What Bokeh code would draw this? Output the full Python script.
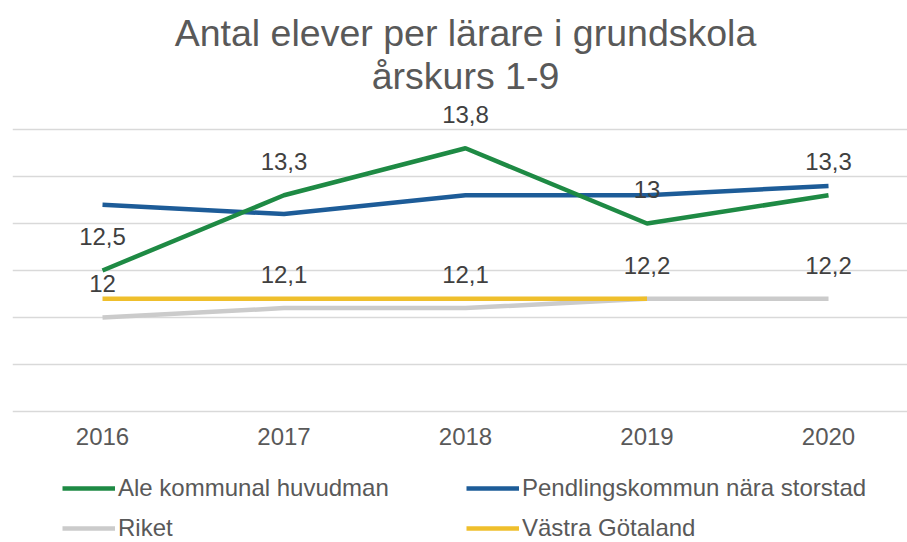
from bokeh.plotting import figure
from bokeh.models import (ColumnDataSource, Legend, LegendItem, LabelSet, Label,
                          FixedTicker, Range1d)
from bokeh.core.properties import value
from bokeh.embed import file_html
from bokeh.resources import INLINE

# ---- data ----
years = [2016, 2017, 2018, 2019, 2020]
year_labels = ["2016", "2017", "2018", "2019", "2020"]
ale = [12.5, 13.3, 13.8, 13.0, 13.3]
pendling = [13.2, 13.1, 13.3, 13.3, 13.4]
riket = [12.0, 12.1, 12.1, 12.2, 12.2]
vastra_years = [2016, 2017, 2018, 2019]
vastra = [12.2, 12.2, 12.2, 12.2]
grid_values = [11, 11.5, 12, 12.5, 13, 13.5, 14]
series_names = ["Ale kommunal huvudman", "Pendlingskommun nära storstad",
                "Riket", "Västra Götaland"]
title_lines = ["Antal elever per lärare i grundskola", "årskurs 1-9"]

FONT = "Liberation Sans"
GREEN = "#1e8a44"
BLUE = "#1d5c98"
GRAY = "#cbcbcb"
YELLOW = "#efbf2c"
TXT = "#595959"
LBL = "#404040"

def fmt(v):
    s = ("%.1f" % v).rstrip("0").rstrip(".")
    return s.replace(".", ",")

p = figure(width=907, height=542, output_backend="svg", toolbar_location=None,
           x_range=Range1d(2015.5041, 2020.4352), y_range=Range1d(9.6064, 15.372),
           min_border_left=12, min_border_right=0, min_border_top=0,
           min_border_bottom=0)
p.outline_line_color = None
p.background_fill_color = "white"
p.border_fill_color = "white"

src_ale = ColumnDataSource(dict(x=years, y=ale, t=[fmt(v) for v in ale]))
src_pen = ColumnDataSource(dict(x=years, y=pendling))
src_rik = ColumnDataSource(dict(x=years, y=riket, t=[fmt(v) for v in riket]))
src_vg = ColumnDataSource(dict(x=vastra_years, y=vastra))

LW = 4.5
r_pen = p.line("x", "y", source=src_pen, line_color=BLUE, line_width=LW)
r_rik = p.line("x", "y", source=src_rik, line_color=GRAY, line_width=LW)
r_vg = p.line("x", "y", source=src_vg, line_color=YELLOW, line_width=LW)
r_ale = p.line("x", "y", source=src_ale, line_color=GREEN, line_width=LW)

for src in (src_ale, src_rik):
    p.add_layout(LabelSet(x="x", y="y", text="t", source=src, y_offset=25,
                          text_align="center", text_baseline="alphabetic",
                          text_font=value(FONT), text_font_size="24px",
                          text_color=LBL))

# axes / grid
p.xaxis.fixed_location = grid_values[0]
p.xaxis.ticker = FixedTicker(ticks=years)
p.xaxis.major_label_overrides = {y: l for y, l in zip(years, year_labels)}
p.xaxis.axis_line_color = None
p.xaxis.major_tick_line_color = None
p.xaxis.minor_tick_line_color = None
p.xaxis.major_label_standoff = 11
p.xaxis.major_label_text_font = FONT
p.xaxis.major_label_text_font_size = "24px"
p.xaxis.major_label_text_color = TXT
p.yaxis.visible = False
p.xgrid.visible = False
p.ygrid.ticker = FixedTicker(ticks=grid_values)
p.ygrid.grid_line_color = "#d9d9d9"
p.ygrid.grid_line_width = 1.5

# title lines
for txt, yy in zip(title_lines, [15.021, 14.564]):
    p.add_layout(Label(x=2018, y=yy, text=txt, text_align="center",
                       text_baseline="alphabetic", text_font=FONT,
                       text_font_size="37.5px", text_color=TXT))

legend = Legend(items=[LegendItem(label=series_names[0], renderers=[r_ale]),
                       LegendItem(label=series_names[1], renderers=[r_pen]),
                       LegendItem(label=series_names[2], renderers=[r_rik]),
                       LegendItem(label=series_names[3], renderers=[r_vg])],
                ncols=2, location=(50, 0), orientation="horizontal",
                glyph_width=53, glyph_height=20, label_height=20,
                label_width=336, label_standoff=3, spacing=12, padding=0,
                margin=0, border_line_color=None, background_fill_alpha=0,
                label_text_font=FONT, label_text_font_size="24px",
                label_text_color=TXT)
p.add_layout(legend, "center")

open("out.html", "w").write(file_html(p, INLINE))
